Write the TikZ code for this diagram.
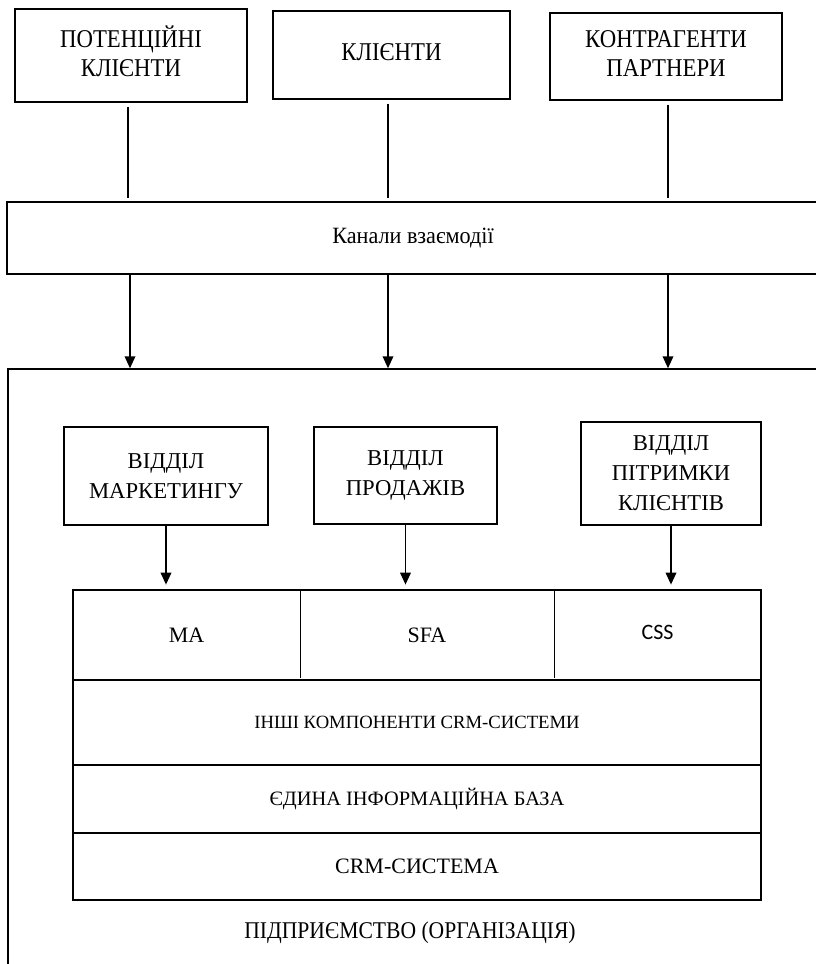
\documentclass[tikz,border=0pt]{standalone}
\usepackage{fontspec}
\setmainfont{Liberation Serif}
\newfontfamily\cssfont{Carlito}
\usetikzlibrary{arrows.meta,calc}
\newcommand\condtext[2][0.89]{\scalebox{#1}[1]{\begin{tabular}{@{}c@{}}#2\end{tabular}}}
\begin{document}
\begin{tikzpicture}[x=0.75pt,y=-0.75pt,line width=1.1pt,
  box/.style={draw,rectangle,inner sep=0pt,align=center},
  cell/.style={rectangle,inner sep=0pt,align=center,minimum height=67.5pt},
  topfont/.style={font=\fontsize{19.2}{21.75}\selectfont},
  deptfont/.style={font=\fontsize{17}{22.5}\selectfont},
  arr/.style={-{Triangle[width=8pt,length=9pt]}},
  link/.style={shorten <=3pt,shorten >=2.25pt}]
\useasboundingbox (0,0) rectangle (816,964);
\clip (0,0) rectangle (816,964);

% top boxes
\node[box,topfont,minimum width=174pt,minimum height=69.75pt] (b1) at (131,55.5) {\condtext{ПОТЕНЦІЙНІ\\КЛІЄНТИ}};
\node[box,topfont,minimum width=177.75pt,minimum height=66pt] (b2) at (391.5,55) {\condtext{КЛІЄНТИ}};
\node[box,topfont,minimum width=174pt,minimum height=65.25pt] (b3) at (666,56.5) {\condtext{КОНТРАГЕНТИ\\ПАРТНЕРИ}};

% channels
\node[box,font=\fontsize{17.5}{20}\selectfont,minimum width=609pt,minimum height=54pt] (ch) at (413,238) {\condtext[0.95]{Канали взаємодії}};

% enterprise
\node[box,minimum width=608.25pt,minimum height=458.25pt] (org) at (413.5,674.5) {};
\node[font=\fontsize{18}{20}\selectfont,inner sep=0pt] (orglabel) at (410,933) {\condtext[0.9]{ПІДПРИЄМСТВО (ОРГАНІЗАЦІЯ)}};

\coordinate (x1) at (128,0);
\coordinate (x2) at (388,0);
\coordinate (x3) at (668,0);
\coordinate (y1) at (130,0);
\coordinate (y2) at (388,0);
\coordinate (y3) at (668,0);

\draw[link] (b1.south -| x1) -- (ch.north -| x1);
\draw[link] (b2.south -| x2) -- (ch.north -| x2);
\draw[link] (b3.south -| x3) -- (ch.north -| x3);

\draw[arr] (ch.south -| y1) -- (org.north -| y1);
\draw[arr] (ch.south -| y2) -- (org.north -| y2);
\draw[arr] (ch.south -| y3) -- (org.north -| y3);

% departments
\node[box,deptfont,minimum width=153pt,minimum height=73.5pt] (d1) at (166,476) {ВІДДІЛ\\МАРКЕТИНГУ};
\node[box,deptfont,minimum width=137.25pt,minimum height=72.75pt] (d2) at (405.5,475.5) {ВІДДІЛ\\ПРОДАЖІВ};
\node[box,deptfont,minimum width=135pt,minimum height=77.25pt] (d3) at (671,473.5) {ВІДДІЛ\\ПІТРИМКИ\\КЛІЄНТІВ};

% CRM block
\node[box,minimum width=516pt,minimum height=67.5pt] (toprow) at (417,635) {};
\node[cell,minimum width=170.25pt,font=\fontsize{16.5}{19}\selectfont] (ma) at (186.5,635) {MA};
\node[cell,minimum width=190.5pt,font=\fontsize{16.5}{19}\selectfont] (sfa) at (427,635) {SFA};
\node[cell,minimum width=155.25pt,font=\cssfont\fontsize{16.5}{19}\selectfont] (css) at (657.5,635) {\raisebox{4.5pt}{CSS}};
\draw (ma.north east) -- ([yshift=2.25pt]ma.south east);
\draw (sfa.north east) -- ([yshift=2.25pt]sfa.south east);

\node[box,minimum width=516pt,minimum height=63.75pt,font=\fontsize{14}{16}\selectfont] (other) at (417,722.5) {ІНШІ КОМПОНЕНТИ CRM-СИСТЕМИ};
\node[box,minimum width=516pt,minimum height=51pt,font=\fontsize{15.3}{17}\selectfont] (db) at (417,799) {ЄДИНА ІНФОРМАЦІЙНА БАЗА};
\node[box,minimum width=516pt,minimum height=50.25pt,font=\fontsize{16.5}{19}\selectfont] (crm) at (417,866.5) {CRM-СИСТЕМА};

\draw[arr,shorten >=3.5pt] (d1.south) -- (d1.south |- toprow.north);
\draw[arr,shorten >=3.5pt] (d2.south) -- (d2.south |- toprow.north);
\draw[arr,shorten >=3.5pt] (d3.south) -- (d3.south |- toprow.north);
\end{tikzpicture}
\end{document}
